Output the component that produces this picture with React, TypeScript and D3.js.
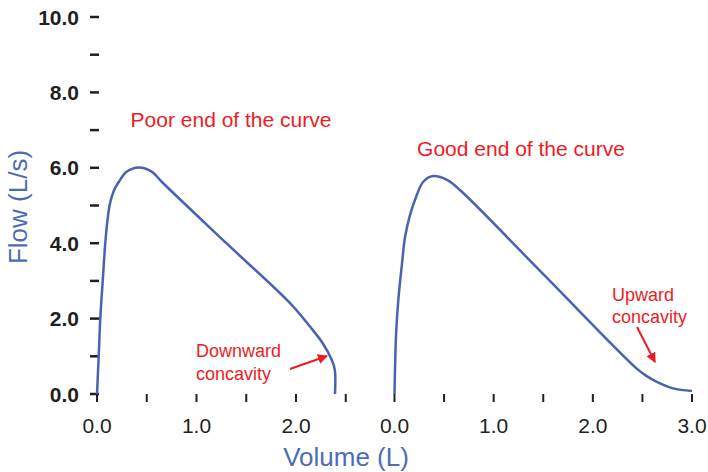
import React from "react";
import * as d3 from "d3";

const poorVolume = [0, 0.017, 0.033, 0.057, 0.083, 0.105, 0.13, 0.17, 0.22, 0.3, 0.42, 0.55, 0.65, 1.3, 1.94, 2.14, 2.27, 2.36, 2.39, 2.392];
const poorFlow = [0, 0.99, 2.0, 2.98, 4.0, 4.6, 5.05, 5.4, 5.63, 5.9, 6.01, 5.9, 5.63, 4.0, 2.41, 1.79, 1.34, 0.9, 0.64, 0];
const goodVolume = [0, 0.017, 0.04, 0.074, 0.107, 0.157, 0.225, 0.29, 0.39, 0.53, 0.66, 1.5, 2.44, 2.54, 2.64, 2.81, 3.0];
const goodFlow = [0, 1.65, 2.54, 3.42, 4.17, 4.75, 5.28, 5.63, 5.78, 5.68, 5.41, 3.18, 0.68, 0.48, 0.33, 0.15, 0.08];

const yMajorTicks = [0, 2, 4, 6, 8, 10];
const yMinorTicks = [1, 3, 5, 7, 9];
const poorXTicks = [0, 0.5, 1, 1.5, 2, 2.5];
const poorXLabels = [0, 1, 2];
const goodXTicks = [0, 0.5, 1, 1.5, 2, 2.5, 3];
const goodXLabels = [0, 1, 2, 3];

const BLUE = "#4763b1";
const BLUE_TEXT = "#4d6cb8";
const RED = "#ec1c24";
const DARK = "#231f20";
const FONT = "'Liberation Sans', Arial, Helvetica, sans-serif";

export default function App() {
  const y = d3.scaleLinear().domain([0, 10]).range([394, 17]);
  const x1 = d3.scaleLinear().domain([0, 2.5]).range([97, 97 + 2.5 * 99.5]);
  const x2 = d3.scaleLinear().domain([0, 3]).range([394.5, 692]);
  const fmt = d3.format(".1f");

  const line1 = d3
    .line<number>()
    .x((_, i) => x1(poorVolume[i]))
    .y((d) => y(d))
    .curve(d3.curveCatmullRom.alpha(0.5));
  const line2 = d3
    .line<number>()
    .x((_, i) => x2(goodVolume[i]))
    .y((d) => y(d))
    .curve(d3.curveCatmullRom.alpha(0.5));

  const xAxis = (sc: d3.ScaleLinear<number, number>, ticks: number[], labels: number[], key: string) => (
    <g key={key}>
      {ticks.map((t) => (
        <line key={"t" + t} x1={sc(t)} x2={sc(t)} y1={394} y2={402} stroke={DARK} strokeWidth={2} />
      ))}
      {labels.map((t) => (
        <text key={"l" + t} x={sc(t)} y={425} textAnchor="middle" dominantBaseline="central" fontSize={21} fill={DARK} fontFamily={FONT}>
          {fmt(t)}
        </text>
      ))}
    </g>
  );

  return (
    <svg width={708} height={472} style={{ position: "absolute", left: 0, top: 0, background: "#fff" }}>
      <defs>
        <marker id="ah" viewBox="0 0 10 10" refX={9} refY={5} markerWidth={5} markerHeight={5} orient="auto" markerUnits="strokeWidth">
          <path d="M0,0 L10,5 L0,10 z" fill={RED} />
        </marker>
      </defs>
      {yMajorTicks.map((t) => (
        <g key={"ym" + t}>
          <line x1={90} x2={99} y1={y(t)} y2={y(t)} stroke={DARK} strokeWidth={2.5} />
          <text x={79} y={y(t)} textAnchor="end" dominantBaseline="central" fontSize={21} fontWeight="bold" fill={DARK} fontFamily={FONT}>
            {fmt(t)}
          </text>
        </g>
      ))}
      {yMinorTicks.map((t) => (
        <line key={"yn" + t} x1={90} x2={99} y1={y(t)} y2={y(t)} stroke={DARK} strokeWidth={2.5} />
      ))}
      {xAxis(x1, poorXTicks, poorXLabels, "ax1")}
      {xAxis(x2, goodXTicks, goodXLabels, "ax2")}

      <path d={line1(poorFlow) || ""} fill="none" stroke={BLUE} strokeWidth={2.5} />
      <path d={line2(goodFlow) || ""} fill="none" stroke={BLUE} strokeWidth={2.5} />

      <text x={231} y={119} textAnchor="middle" dominantBaseline="central" fontSize={21} fill={RED} fontFamily={FONT}>
        Poor end of the curve
      </text>
      <text x={521} y={148} textAnchor="middle" dominantBaseline="central" fontSize={21} fill={RED} fontFamily={FONT}>
        Good end of the curve
      </text>

      <text x={196} y={351} dominantBaseline="central" fontSize={18} fill={RED} fontFamily={FONT}>Downward</text>
      <text x={196} y={374} dominantBaseline="central" fontSize={18} fill={RED} fontFamily={FONT}>concavity</text>
      <line x1={290} y1={369} x2={327} y2={356} stroke={RED} strokeWidth={2} markerEnd="url(#ah)" />

      <text x={612} y={295} dominantBaseline="central" fontSize={18} fill={RED} fontFamily={FONT}>Upward</text>
      <text x={612} y={317} dominantBaseline="central" fontSize={18} fill={RED} fontFamily={FONT}>concavity</text>
      <line x1={637} y1={327} x2={655} y2={362} stroke={RED} strokeWidth={2} markerEnd="url(#ah)" />

      <text x={346} y={457} textAnchor="middle" dominantBaseline="central" fontSize={26} fill={BLUE_TEXT} fontFamily={FONT}>
        Volume (L)
      </text>
      <text transform="translate(18,207) rotate(-90)" textAnchor="middle" dominantBaseline="central" fontSize={26} fill={BLUE_TEXT} fontFamily={FONT}>
        Flow (L/s)
      </text>
    </svg>
  );
}
